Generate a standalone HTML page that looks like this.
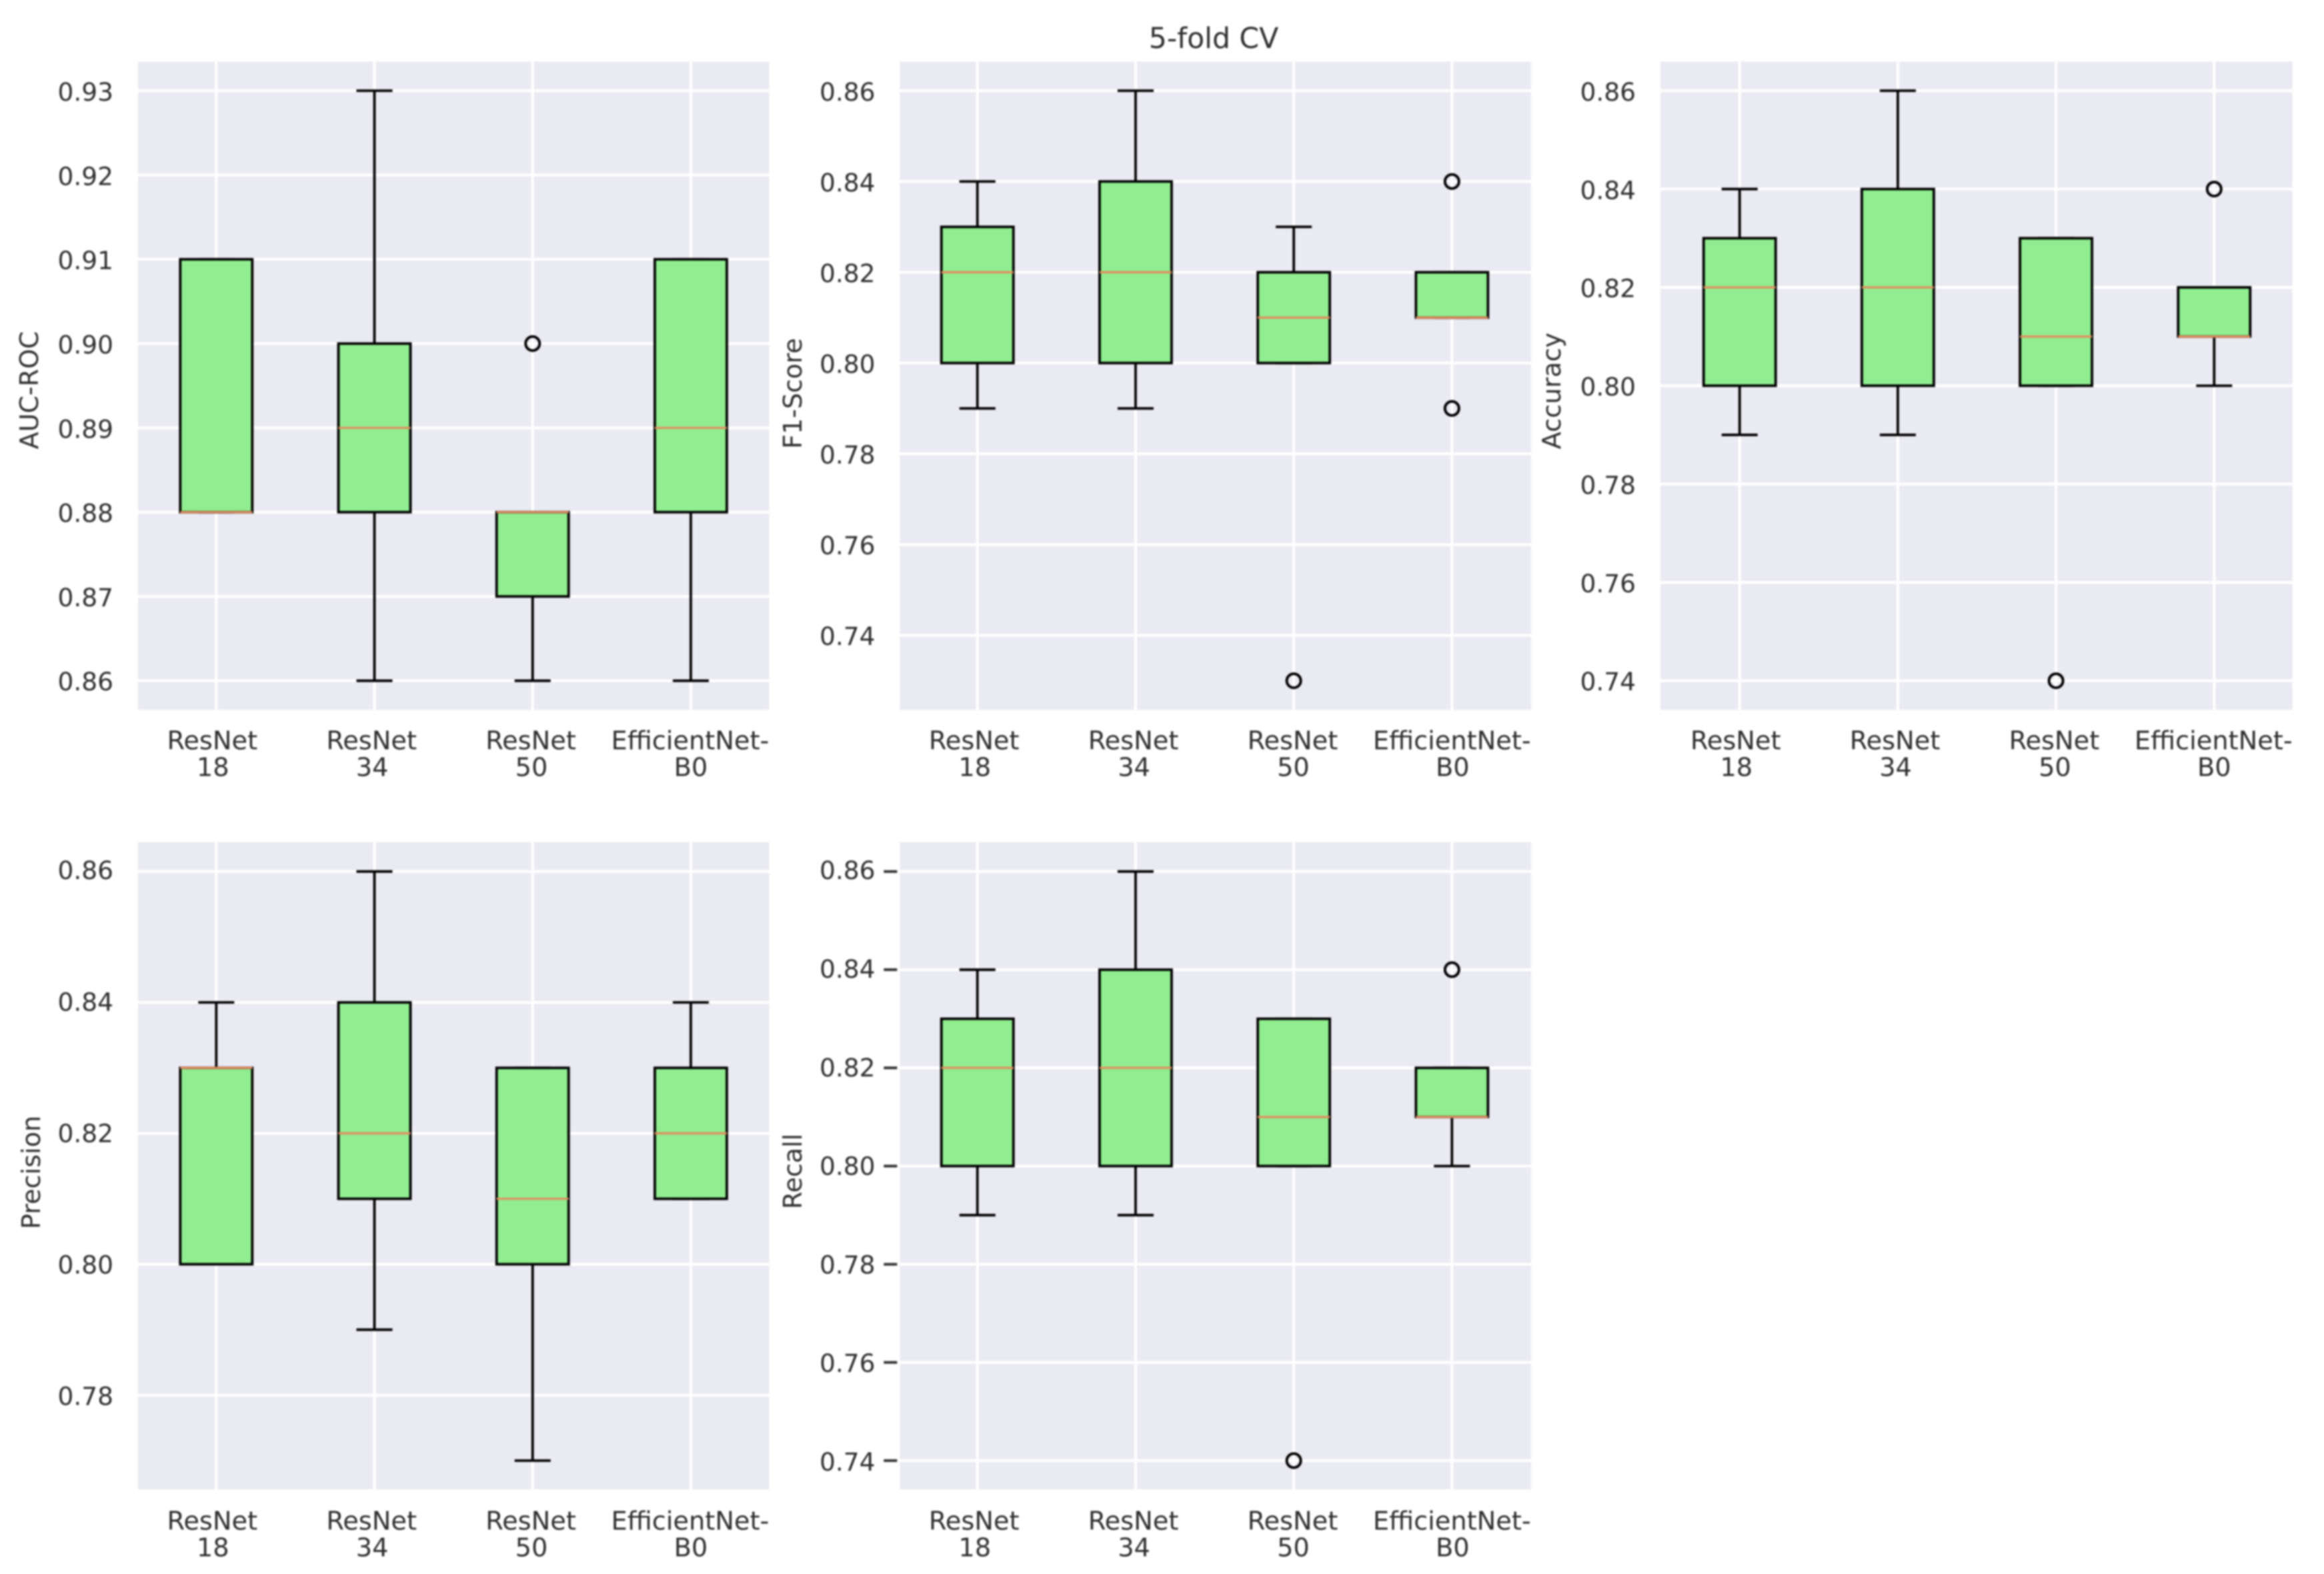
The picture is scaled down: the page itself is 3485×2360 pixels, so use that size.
<!DOCTYPE html>
<html lang="en">
<head>
<meta charset="utf-8">
<title>5-fold CV</title>
<style>
html,body{margin:0;padding:0;background:#fff;width:3485px;height:2360px;overflow:hidden}
svg{display:block;filter:blur(1.2px)}
text{font-family:"DejaVu Sans","Liberation Sans",sans-serif;fill:#2f2f2f}
</style>
</head>
<body>
<svg id="chart" xmlns="http://www.w3.org/2000/svg" width="3485" height="2360" viewBox="0 0 3485 2360">
<rect width="3485" height="2360" fill="#fff"/>
<text x="1820" y="72" font-size="42.5" text-anchor="middle">5-fold CV</text>
</svg>
<script>
// Categories
const categoryLine1 = ['ResNet', 'ResNet', 'ResNet', 'EfficientNet-'];
const categoryLine2 = ['18', '34', '50', 'B0'];

// AUC-ROC
const aucTicks = [0.86, 0.87, 0.88, 0.89, 0.90, 0.91, 0.92, 0.93];
const aucQ1 = [0.88, 0.88, 0.87, 0.88];
const aucMedian = [0.88, 0.89, 0.88, 0.89];
const aucQ3 = [0.91, 0.90, 0.88, 0.91];
const aucLow = [0.88, 0.86, 0.86, 0.86];
const aucHigh = [0.91, 0.93, 0.88, 0.91];
const aucOutliers = [[], [], [0.90], []];

// F1-Score
const f1Ticks = [0.74, 0.76, 0.78, 0.80, 0.82, 0.84, 0.86];
const f1Q1 = [0.80, 0.80, 0.80, 0.81];
const f1Median = [0.82, 0.82, 0.81, 0.81];
const f1Q3 = [0.83, 0.84, 0.82, 0.82];
const f1Low = [0.79, 0.79, 0.80, 0.81];
const f1High = [0.84, 0.86, 0.83, 0.82];
const f1Outliers = [[], [], [0.73], [0.84, 0.79]];

// Accuracy
const accTicks = [0.74, 0.76, 0.78, 0.80, 0.82, 0.84, 0.86];
const accQ1 = [0.80, 0.80, 0.80, 0.81];
const accMedian = [0.82, 0.82, 0.81, 0.81];
const accQ3 = [0.83, 0.84, 0.83, 0.82];
const accLow = [0.79, 0.79, 0.80, 0.80];
const accHigh = [0.84, 0.86, 0.83, 0.82];
const accOutliers = [[], [], [0.74], [0.84]];

// Precision
const precTicks = [0.78, 0.80, 0.82, 0.84, 0.86];
const precQ1 = [0.80, 0.81, 0.80, 0.81];
const precMedian = [0.83, 0.82, 0.81, 0.82];
const precQ3 = [0.83, 0.84, 0.83, 0.83];
const precLow = [0.80, 0.79, 0.77, 0.81];
const precHigh = [0.84, 0.86, 0.83, 0.84];
const precOutliers = [[], [], [], []];

// Recall
const recTicks = [0.74, 0.76, 0.78, 0.80, 0.82, 0.84, 0.86];
const recQ1 = [0.80, 0.80, 0.80, 0.81];
const recMedian = [0.82, 0.82, 0.81, 0.81];
const recQ3 = [0.83, 0.84, 0.83, 0.82];
const recLow = [0.79, 0.79, 0.80, 0.80];
const recHigh = [0.84, 0.86, 0.83, 0.82];
const recOutliers = [[], [], [0.74], [0.84]];

const NS = 'http://www.w3.org/2000/svg';
const svg = document.getElementById('chart');

const panels = [
  {key:'auc-roc', label:'AUC-ROC', ticks:aucTicks, q1:aucQ1, med:aucMedian, q3:aucQ3, low:aucLow, high:aucHigh, out:aucOutliers,
   L:207, R:1153.5, T:92.3, B:1064.3, vTop:0.93, pTop:136, vBot:0.86, pBot:1020.7, x0:117.3, labelShift:0,
   tickRight:170, tickOffTop:15, tickOffBot:14.5, labelX:57, labelY:673.5, labelSize:38, xBase1:1123.5, xBase2:1163.5, marks:false},
  {key:'f1-score', label:'F1-Score', ticks:f1Ticks, q1:f1Q1, med:f1Median, q3:f1Q3, low:f1Low, high:f1High, out:f1Outliers,
   L:1349.3, R:2296, T:92.3, B:1064.3, vTop:0.86, pTop:136, vBot:0.73, pBot:1020.7, x0:116.4, labelShift:1,
   tickRight:1312.5, tickOffTop:15, tickOffBot:14.5, labelX:1202, labelY:673, labelSize:38, xBase1:1123.5, xBase2:1163.5, marks:false},
  {key:'accuracy', label:'Accuracy', ticks:accTicks, q1:accQ1, med:accMedian, q3:accQ3, low:accLow, high:accHigh, out:accOutliers,
   L:2490, R:3437.7, T:92.3, B:1064.3, vTop:0.86, pTop:136, vBot:0.74, pBot:1020.7, x0:118.7, labelShift:0,
   tickRight:2453, tickOffTop:15, tickOffBot:14.5, labelX:2340, labelY:673.5, labelSize:38.3, xBase1:1123.5, xBase2:1163.5, marks:false},
  {key:'precision', label:'Precision', ticks:precTicks, q1:precQ1, med:precMedian, q3:precQ3, low:precLow, high:precHigh, out:precOutliers,
   L:207, R:1153.5, T:1262.7, B:2233, vTop:0.86, pTop:1306.7, vBot:0.77, pBot:2190, x0:117.3, labelShift:0,
   tickRight:170, tickOffTop:11.5, tickOffBot:15, labelX:60, labelY:1843, labelSize:38.2, xBase1:2293.5, xBase2:2333.5, marks:false},
  {key:'recall', label:'Recall', ticks:recTicks, q1:recQ1, med:recMedian, q3:recQ3, low:recLow, high:recHigh, out:recOutliers,
   L:1349.3, R:2296, T:1262.7, B:2233, vTop:0.86, pTop:1306.7, vBot:0.74, pBot:2190, x0:116.4, labelShift:1,
   tickRight:1312.5, tickOffTop:11.5, tickOffBot:15, labelX:1202, labelY:1813, labelSize:38, xBase1:2293.5, xBase2:2333.5, marks:true}
];

const STEP = 237.2, BOX_W = 108, CAP_W = 54, LINE_W = 3.8;

function shape(parent, tag, props) {
  const n = document.createElementNS(NS, tag);
  for (const k in props) n.setAttribute(k, props[k]);
  parent.appendChild(n);
  return n;
}

panels.forEach(function (p) {
  const xScale = function (i) { return p.L + p.x0 + STEP * i; };
  const yScale = function (v) { return p.pTop + (p.vTop - v) / (p.vTop - p.vBot) * (p.pBot - p.pTop); };

  const g = shape(svg, 'g', {});
  
  

  const bg = shape(g, 'rect', {x:p.L, y:p.T, width:p.R - p.L, height:p.B - p.T, fill:'#eaeaf2'});
  
  

  p.ticks.forEach(function (v) {
    const y = yScale(v);
    const grid = shape(g, 'line', {x1:p.L, x2:p.R, y1:y, y2:y, stroke:'#fff', 'stroke-width':4.2});
    
    

    const frac = (y - p.pTop) / (p.pBot - p.pTop);
    const off = p.tickOffTop + (p.tickOffBot - p.tickOffTop) * frac;
    const lab = shape(g, 'text', {x:p.tickRight, y:y + off, 'font-size':37.5, 'text-anchor':'end'});
    lab.textContent = v.toFixed(2);
    
    

    if (p.marks) {
      const mark = shape(g, 'line', {x1:p.L - 24, x2:p.L - 4, y1:y, y2:y, stroke:'#333', 'stroke-width':4});
      
      
    }
  });

  categoryLine1.forEach(function (name, i) {
    const x = xScale(i);
    const grid = shape(g, 'line', {x1:x, x2:x, y1:p.T, y2:p.B, stroke:'#fff', 'stroke-width':4.2});
    
    

    const lx = x - 6 + 1.67 * i + p.labelShift;
    const lab = shape(g, 'text', {'font-size':38.3, 'text-anchor':'middle'});
    
    
    const t1 = shape(lab, 'tspan', {x:lx, y:p.xBase1});
    t1.textContent = name;
    const t2 = shape(lab, 'tspan', {x:lx + 1, y:p.xBase2});
    t2.textContent = categoryLine2[i];
  });

  const yl = shape(g, 'text', {x:p.labelX, y:p.labelY, 'font-size':p.labelSize, 'text-anchor':'start',
    transform:'rotate(-90 ' + p.labelX + ' ' + p.labelY + ')'});
  yl.textContent = p.label;
  
  

  categoryLine1.forEach(function (name, i) {
    const x = xScale(i);
    const box = shape(g, 'g', {});
    
    

    const wLow = shape(box, 'line', {x1:x, x2:x, y1:yScale(p.q1[i]), y2:yScale(p.low[i]), stroke:'#000', 'stroke-width':LINE_W});
    
    

    const wHigh = shape(box, 'line', {x1:x, x2:x, y1:yScale(p.q3[i]), y2:yScale(p.high[i]), stroke:'#000', 'stroke-width':LINE_W});
    
    

    const capLow = shape(box, 'line', {x1:x - CAP_W / 2, x2:x + CAP_W / 2, y1:yScale(p.low[i]), y2:yScale(p.low[i]), stroke:'#000', 'stroke-width':LINE_W});
    
    

    const capHigh = shape(box, 'line', {x1:x - CAP_W / 2, x2:x + CAP_W / 2, y1:yScale(p.high[i]), y2:yScale(p.high[i]), stroke:'#000', 'stroke-width':LINE_W});
    
    

    const rect = shape(box, 'rect', {x:x - BOX_W / 2, y:yScale(p.q3[i]), width:BOX_W, height:yScale(p.q1[i]) - yScale(p.q3[i]),
      fill:'#90ee90', stroke:'#000', 'stroke-width':LINE_W});
    
    

    const med = shape(box, 'line', {x1:x - BOX_W / 2, x2:x + BOX_W / 2, y1:yScale(p.med[i]), y2:yScale(p.med[i]), stroke:'#e58a5c', 'stroke-width':3.2});
    
    

    p.out[i].forEach(function (v) {
      const c = shape(box, 'circle', {cx:x, cy:yScale(v), r:10.5, fill:'none', stroke:'#000', 'stroke-width':4});
      
      
    });
  });
});
</script>
</body>
</html>
